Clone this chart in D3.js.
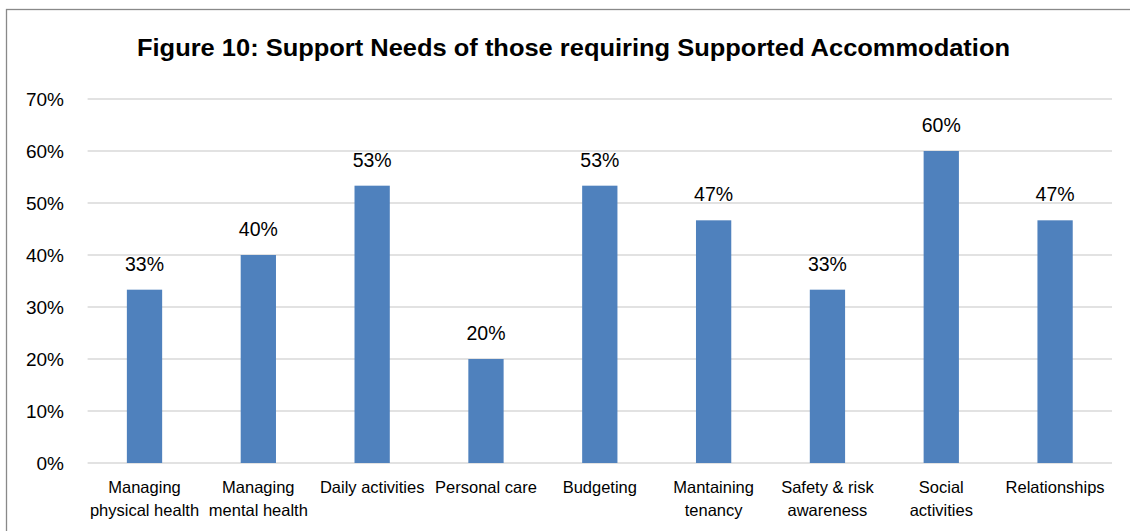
<!DOCTYPE html>
<html><head><meta charset="utf-8">
<script src="https://cdn.jsdelivr.net/npm/d3@7"></script>
<style>html,body{margin:0;padding:0;background:#fff;}svg{display:block;}</style>
</head><body>
<svg id="chart" width="1130" height="531"></svg>
<script>
const title = "Figure 10: Support Needs of those requiring Supported Accommodation";
const categories = [
  ["Managing", "physical health"],
  ["Managing", "mental health"],
  ["Daily activities"],
  ["Personal care"],
  ["Budgeting"],
  ["Mantaining", "tenancy"],
  ["Safety & risk", "awareness"],
  ["Social", "activities"],
  ["Relationships"]
];
const values = [33.33, 40, 53.33, 20, 53.33, 46.67, 33.33, 60, 46.67];
const dataLabels = ["33%", "40%", "53%", "20%", "53%", "47%", "33%", "60%", "47%"];
const yTicks = [0, 10, 20, 30, 40, 50, 60, 70];

(function () {
const svg = d3.select("#chart");
const font = "'Liberation Sans', Arial, sans-serif";
const pLeft = 87.6, pRight = 1112, pTop = 99, pBottom = 463;

// border
svg.append("rect").attr("x", 6.5).attr("y", 9.5).attr("width", 1200).attr("height", 600)
  .attr("fill", "#fff").attr("stroke", "#898989").attr("stroke-width", 1.3);

svg.append("text").attr("x", 573.5).attr("y", 56)
  .attr("text-anchor", "middle").attr("font-family", font).attr("font-weight", "bold")
  .attr("font-size", 24.5).attr("fill", "#000")
  .attr("textLength", 873).attr("lengthAdjust", "spacingAndGlyphs")
  .text(title);

const x = d3.scaleBand().domain(d3.range(categories.length)).range([pLeft, pRight]).paddingInner(0.69).paddingOuter(0.345);
const y = d3.scaleLinear().domain([0, 70]).range([pBottom, pTop]);

// gridlines
svg.append("g").selectAll("line").data(yTicks).join("line")
  .attr("x1", pLeft).attr("x2", pRight)
  .attr("y1", d => y(d)).attr("y2", d => y(d))
  .attr("stroke", "#d9d9d9").attr("stroke-width", 1.3);

// y axis labels
const yAxis = d3.axisLeft(y).tickValues(yTicks).tickFormat(d => d + "%").tickSize(0).tickPadding(0);
const ya = svg.append("g").attr("transform", "translate(64,0)").call(yAxis);
ya.select(".domain").remove();
ya.selectAll("text").attr("font-family", font).attr("font-size", 19).attr("fill", "#000").attr("dy", "0.35em");

// bars
svg.append("g").selectAll("rect").data(values).join("rect")
  .attr("x", (d, i) => x(i)).attr("width", x.bandwidth())
  .attr("y", d => y(d)).attr("height", d => pBottom - y(d))
  .attr("fill", "#4f81bd");

// data labels
svg.append("g").selectAll("text").data(values).join("text")
  .attr("x", (d, i) => x(i) + x.bandwidth() / 2)
  .attr("y", d => y(d) - 19)
  .attr("text-anchor", "middle").attr("font-family", font).attr("font-size", 19.5).attr("fill", "#000")
  .text((d, i) => dataLabels[i]);

// category labels
const cg = svg.append("g").selectAll("text").data(categories).join("text")
  .attr("text-anchor", "middle").attr("font-family", font).attr("font-size", 16.5).attr("fill", "#000");
cg.each(function (lines, i) {
  const t = d3.select(this);
  lines.forEach((ln, j) => {
    t.append("tspan").attr("x", x(i) + x.bandwidth() / 2).attr("y", 493 + j * 23).text(ln);
  });
});
})();
</script>
</body></html>
